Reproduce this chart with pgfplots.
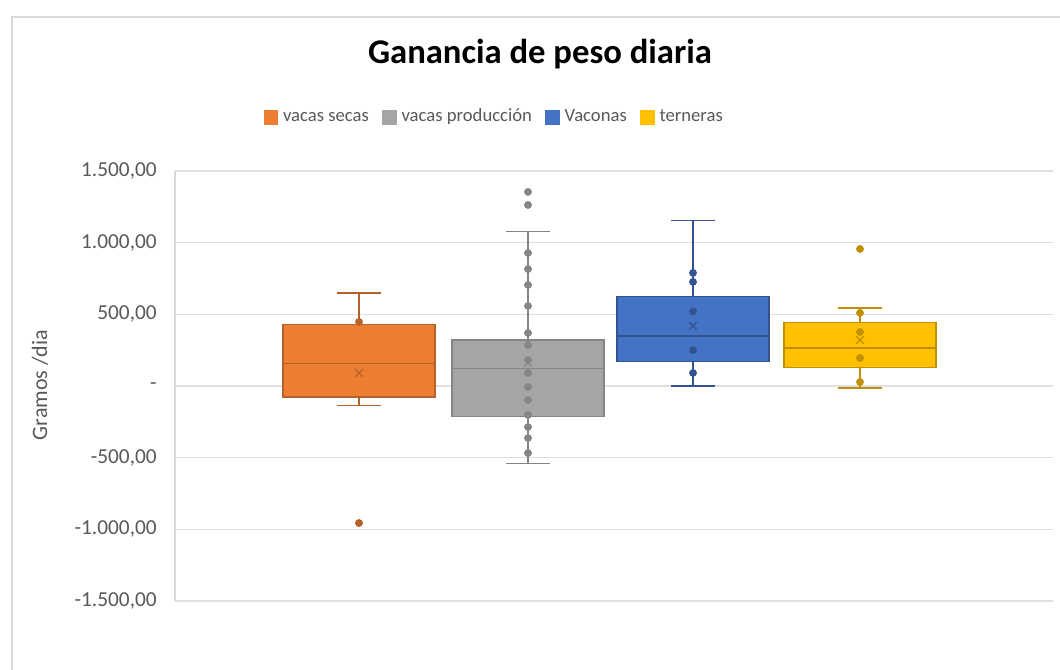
\documentclass[border=0pt]{standalone}
\usepackage{pgfplots}
\pgfplotsset{compat=1.18}
\usepgfplotslibrary{statistics}
\usepackage{fontspec}
\setmainfont{Carlito}
\definecolor{vsF}{HTML}{ED7D31}\definecolor{vsD}{HTML}{B5612A}
\definecolor{vpF}{HTML}{A5A5A5}\definecolor{vpD}{HTML}{858585}
\definecolor{vcF}{HTML}{4472C4}\definecolor{vcD}{HTML}{32538F}
\definecolor{teF}{HTML}{FFC000}\definecolor{teD}{HTML}{C09000}
\definecolor{txt}{HTML}{595959}
\begin{document}
\begin{tikzpicture}
\clip (0,0) rectangle (795pt,502.5pt);
\fill[white] (0,0) rectangle (795pt,502.5pt);
\draw[gray!30, line width=0.8pt] (9pt,-10pt) rectangle (810pt,489.75pt);
\node[font=\bfseries\fontsize{26}{31}\selectfont, text=black] at (405pt,462pt) {Ganancia de peso diaria};
\node[font=\fontsize{16.5}{19}\selectfont, text=txt, rotate=90] at (30pt,213.75pt) {Gramos /dia};
\begin{axis}[
  at={(131.25pt,51.75pt)}, anchor=south west,
  scale only axis, width=658.5pt, height=322.5pt,
  xmin=175, xmax=1053, ymin=-1500, ymax=1500,
  axis line style={draw=none},
  xtick=\empty,
  ytick={-1500,-1000,-500,0,500,1000,1500},
  yticklabels={{-1.500,00},{-1.000,00},{-500,00},{-},{500,00},{1.000,00},{1.500,00}},
  major tick length=0pt,
  yticklabel style={font=\fontsize{16}{18}\selectfont, text=txt, inner sep=0pt, xshift=-13.5pt},
  ymajorgrids, grid style={gray!25, line width=0.8pt},
  clip=false,
  legend style={at={(0.364,1.125)}, anchor=center, draw=none, fill=none,
    legend columns=-1, font=\fontsize{14}{16}\selectfont, text=txt,
    nodes={text height=1.6ex, text depth=0.35ex},
    /tikz/every odd column/.append style={column sep=1.5pt},
    /tikz/every even column/.append style={column sep=8pt}},
  legend image code/.code={\fill[#1,draw=none] (0pt,-5.5pt) rectangle (11pt,5.5pt);},
  boxplot/draw direction=y,
  boxplot/box extend=152, boxplot/whisker extend=44,
]
\draw[gray!30, line width=0.8pt] (rel axis cs:0,0) -- (rel axis cs:0,1);
\addlegendimage{fill=vsF}\addlegendentry{vacas secas}
\addlegendimage{fill=vpF}\addlegendentry{vacas producción}
\addlegendimage{fill=vcF}\addlegendentry{Vaconas}
\addlegendimage{fill=teF}\addlegendentry{terneras}
% vacas secas
\addplot[boxplot prepared={draw position=359, lower whisker=-133, lower quartile=-77, median=160, upper quartile=426, upper whisker=649},
  fill=vsF, draw=vsD, line width=0.8pt, forget plot] coordinates {};
\addplot[only marks, mark=*, mark size=2.7pt, color=vsD, forget plot] coordinates {(359,-956) (359,447)};
\addplot[only marks, mark=x, mark size=4pt, color=vsD, line width=0.9pt, forget plot] coordinates {(359,91)};
% vacas produccion
\addplot[boxplot prepared={draw position=528, lower whisker=-544, lower quartile=-216, median=119, upper quartile=321, upper whisker=1075},
  fill=vpF, draw=vpD, line width=0.8pt, forget plot] coordinates {};
\addplot[only marks, mark=*, mark size=2.7pt, color=vpD, forget plot] coordinates {
 (528,1354) (528,1263) (528,928) (528,816) (528,705) (528,558) (528,370)
 (528,286) (528,181) (528,91) (528,-7) (528,-98)
 (528,-202) (528,-286) (528,-363) (528,-468)};
\addplot[only marks, mark=x, mark size=4pt, color=vpD, line width=0.9pt, forget plot] coordinates {(528,160)};
% Vaconas
\addplot[boxplot prepared={draw position=693, lower whisker=0, lower quartile=168, median=349, upper quartile=623, upper whisker=1152},
  fill=vcF, draw=vcD, line width=0.8pt, forget plot] coordinates {};
\addplot[only marks, mark=*, mark size=2.7pt, color=vcD, forget plot] coordinates {(693,789) (693,726) (693,91) (693,520) (693,250)};
\addplot[only marks, mark=x, mark size=4pt, color=vcD, line width=0.9pt, forget plot] coordinates {(693,419)};
% terneras
\addplot[boxplot prepared={draw position=860, lower whisker=-14, lower quartile=126, median=265, upper quartile=440, upper whisker=544},
  fill=teF, draw=teD, line width=0.8pt, forget plot] coordinates {};
\addplot[only marks, mark=*, mark size=2.7pt, color=teD, forget plot] coordinates {(860,956) (860,510) (860,377) (860,195) (860,28)};
\addplot[only marks, mark=x, mark size=4pt, color=teD, line width=0.9pt, forget plot] coordinates {(860,321)};
\end{axis}
\end{tikzpicture}
\end{document}
